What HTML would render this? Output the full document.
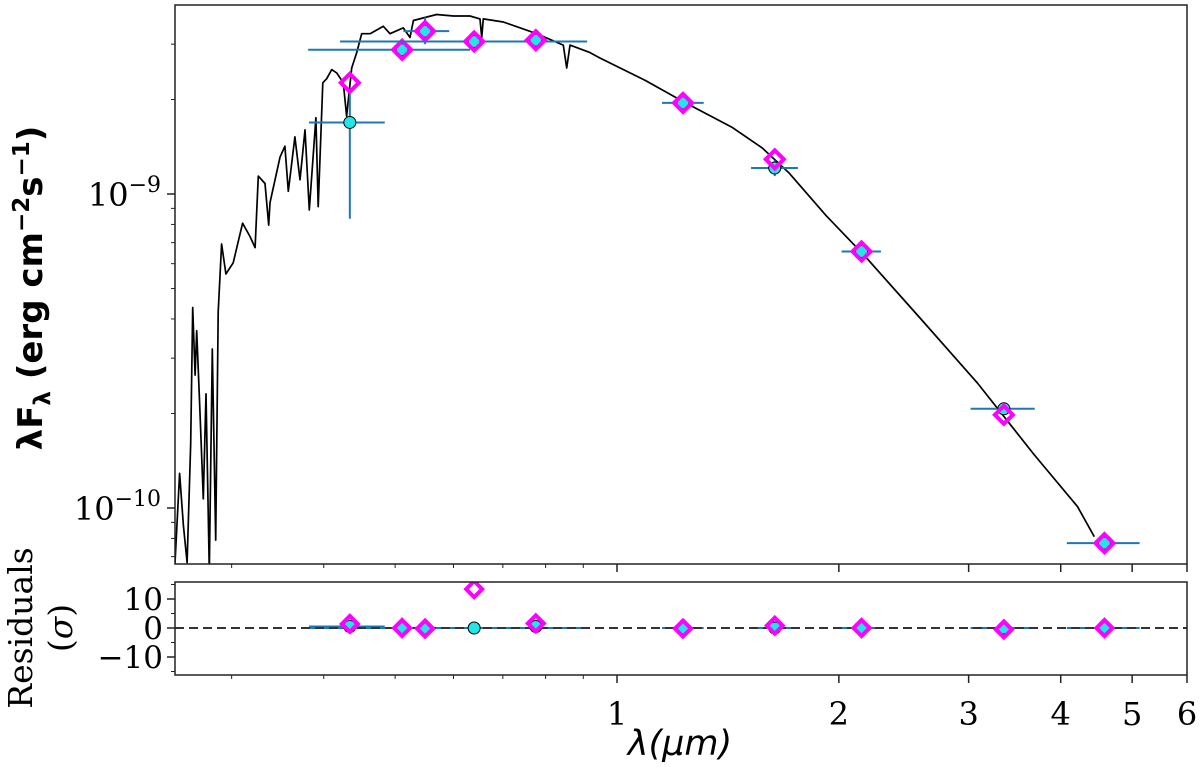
<!DOCTYPE html>
<html><head><meta charset="utf-8"><style>
html,body{margin:0;padding:0;background:#fff;}
svg{display:block;font-family:"DejaVu Serif","Liberation Serif",serif;}
</style></head><body>
<svg id="chart" width="1200" height="767" viewBox="0 0 1200 767" xmlns="http://www.w3.org/2000/svg"></svg>
<script>
// ---- data ----
const specWave = [0.247,0.251,0.255,0.258,0.261,0.264,0.2656,0.2676,0.2690,0.2718,0.2746,0.2769,0.2798,0.2824,0.2854,0.2877,0.2907,0.2947,0.3015,0.3105,0.3177,0.3228,0.3261,0.3330,0.3368,0.3382,0.3489,0.3543,0.3581,0.3656,0.3714,0.3773,0.3824,0.3904,0.3932,0.3988,0.4038,0.4101,0.4166,0.4252,0.4297,0.4365,0.4434,0.4504,0.4624,0.4818,0.4920,0.5129,0.5238,0.5293,0.5692,0.5996,0.6316,0.6517,0.6553,0.6586,0.7010,0.7781,0.8456,0.8545,0.8635,0.9192,0.948,1.092,1.229,1.433,1.575,1.710,1.923,2.165,2.584,3.083,3.68,4.215,4.443];
const specFlux = [7.46e-11,6.3e-11,1.29e-10,8.8e-11,6.7e-11,1.61e-10,4.35e-10,2.65e-10,3.67e-10,2.01e-10,1.07e-10,2.31e-10,6.3e-11,3.21e-10,7.9e-11,4.21e-10,6.93e-10,5.56e-10,6.04e-10,8.07e-10,7.32e-10,6.75e-10,1.14e-9,1.08e-9,7.96e-10,9.38e-10,1.31e-9,1.42e-9,1.02e-9,1.52e-9,1.11e-9,1.60e-9,8.89e-10,1.75e-9,9.12e-10,2.26e-9,2.33e-9,2.49e-9,2.43e-9,2.26e-9,1.77e-9,2.52e-9,2.82e-9,3.24e-9,3.24e-9,3.42e-9,3.24e-9,3.38e-9,3.15e-9,3.57e-9,3.73e-9,3.69e-9,3.69e-9,3.61e-9,3.15e-9,3.61e-9,3.53e-9,3.24e-9,2.98e-9,2.52e-9,2.98e-9,2.82e-9,2.71e-9,2.30e-9,1.97e-9,1.63e-9,1.40e-9,1.17e-9,8.52e-10,6.38e-10,4.0e-10,2.50e-10,1.48e-10,1.01e-10,8.1e-11];
const bandWave = [0.434,0.511,0.549,0.640,0.776,1.229,1.637,2.147,3.349,4.586];
const bandLo   = [0.382,0.381,0.513,0.421,0.776,1.151,1.520,2.017,3.018,4.077];
const bandHi   = [0.484,0.632,0.592,0.911,0.776,1.311,1.760,2.281,3.688,5.118];
const obsFlux  = [1.69e-9,2.88e-9,3.30e-9,3.06e-9,3.09e-9,1.95e-9,1.21e-9,6.56e-10,2.07e-10,7.73e-11];
const obsErrLo = [8.34e-10,2.88e-9,3.00e-9,3.06e-9,3.09e-9,1.95e-9,1.14e-9,6.56e-10,2.07e-10,7.73e-11];
const obsErrHi = [2.08e-9,2.88e-9,3.65e-9,3.06e-9,3.09e-9,1.95e-9,1.28e-9,6.56e-10,2.07e-10,7.73e-11];
const modFlux  = [2.26e-9,2.88e-9,3.30e-9,3.06e-9,3.09e-9,1.95e-9,1.29e-9,6.56e-10,1.98e-10,7.73e-11];
const resObs   = [0.5,0,0,0,0.5,0,0,0,0,0];
const resMod   = [1.4,0,-0.2,13.4,1.6,-0.2,0.8,0,-0.5,0];
const xTickVals = [1,2,3,4,5,6];
const xTickLabels = ["1","2","3","4","5","6"];
const xMinorVals = [0.3,0.4,0.5,0.6,0.7,0.8,0.9];
const resTickVals = [10,0,-10];
const resTickLabels = ["10","0","\u221210"];

// ---- axes ----
const L=175,R=1187,T=5,B=564,RT=582,RB=675;
const X0=617, XD=737;
const sx = v => X0 + XD*Math.log10(v);
const sy = v => 194 - 314*(Math.log10(v)+9);
const ry = v => 628 - 2.9*v;
const NS="http://www.w3.org/2000/svg";
const svg=document.getElementById('chart');
function mk(tag,attrs,parent){const e=document.createElementNS(NS,tag);for(const k in attrs)e.setAttribute(k,attrs[k]);(parent||svg).appendChild(e);return e;}

const defs=mk('defs',{});
const c1=mk('clipPath',{id:'cm'},defs);mk('rect',{x:L,y:T,width:R-L,height:B-T},c1);
const c2=mk('clipPath',{id:'cr'},defs);mk('rect',{x:L,y:RT,width:R-L,height:RB-RT},c2);

const gMain=mk('g',{'clip-path':'url(#cm)'});


let d='';
specWave.forEach((w,i)=>{d+=(i?'L':'M')+sx(w).toFixed(1)+' '+sy(specFlux[i]).toFixed(1);});
const spec=mk('path',{d:d,fill:'none',stroke:'#000','stroke-width':1.7,'stroke-linejoin':'round'},gMain);



bandWave.forEach((w,i)=>{
  const g=mk('g',{},gMain);
  
  
  const y=sy(obsFlux[i]);
  if(bandHi[i]>bandLo[i]) mk('line',{x1:sx(bandLo[i]),x2:sx(bandHi[i]),y1:y,y2:y,stroke:'#1f77b4','stroke-width':2},g);
  mk('line',{x1:sx(w),x2:sx(w),y1:sy(obsErrLo[i]),y2:sy(obsErrHi[i]),stroke:'#1f77b4','stroke-width':2},g);
  mk('circle',{cx:sx(w),cy:y,r:6,fill:'#22e5e5',stroke:'#000','stroke-width':1},g);
  const mx=sx(w),my=sy(modFlux[i]),s=9;
  mk('path',{d:`M${mx} ${my-s}L${mx+s} ${my}L${mx} ${my+s}L${mx-s} ${my}Z`,fill:'none',stroke:'#ff00ff','stroke-width':4},g);
});

const gRes=mk('g',{'clip-path':'url(#cr)'});


bandWave.forEach((w,i)=>{
  if(bandHi[i]>bandLo[i]) mk('line',{x1:sx(bandLo[i]),x2:sx(bandHi[i]),y1:ry(resObs[i]),y2:ry(resObs[i]),stroke:'#1f77b4','stroke-width':2},gRes);
});
const zl=mk('line',{x1:L,x2:R,y1:ry(0),y2:ry(0),stroke:'#333','stroke-width':2,'stroke-dasharray':'9 5'},gRes);


bandWave.forEach((w,i)=>{
  const g=mk('g',{},gRes);
  
  
  mk('circle',{cx:sx(w),cy:ry(resObs[i]),r:6,fill:'#22e5e5',stroke:'#000','stroke-width':1},g);
  const mx=sx(w),my=ry(resMod[i]),s=8;
  mk('path',{d:`M${mx} ${my-s}L${mx+s} ${my}L${mx} ${my+s}L${mx-s} ${my}Z`,fill:'none',stroke:'#ff00ff','stroke-width':4},g);
});

const f1=mk('rect',{x:L,y:T,width:R-L,height:B-T,fill:'none',stroke:'#222','stroke-width':1.5});


const f2=mk('rect',{x:L,y:RT,width:R-L,height:RB-RT,fill:'none',stroke:'#222','stroke-width':1.5});



const gx=mk('g',{});


xTickVals.forEach((v,i)=>{
  const x=Math.min(sx(v),R);
  mk('line',{x1:x,x2:x,y1:RB,y2:RB+8,stroke:'#222','stroke-width':1.5},gx);
  mk('line',{x1:x,x2:x,y1:B,y2:B+8,stroke:'#222','stroke-width':1.5},gx);
  const t=mk('text',{x:x,y:RB+50,'text-anchor':'middle','font-size':32,fill:'#000'},gx);
  t.textContent=xTickLabels[i];
});
xMinorVals.forEach(v=>{
  const x=sx(v);
  mk('line',{x1:x,x2:x,y1:RB,y2:RB+4,stroke:'#222','stroke-width':1},gx);
  mk('line',{x1:x,x2:x,y1:B,y2:B+4,stroke:'#222','stroke-width':1},gx);
});
const xt=mk('text',{x:680,y:755,'text-anchor':'middle','font-size':35,'font-style':'italic',fill:'#000','font-family':'DejaVu Sans, sans-serif'},gx);
xt.textContent='λ(μm)';



const gy=mk('g',{});


[-9,-10].forEach(p=>{
  const y=sy(Math.pow(10,p));
  mk('line',{x1:L-8,x2:L,y1:y,y2:y,stroke:'#222','stroke-width':1.5},gy);
  const t=mk('text',{x:L-14,y:y+12,'text-anchor':'end','font-size':32,fill:'#000'},gy);
  const a=mk('tspan',{},t);a.textContent='10';
  const b=mk('tspan',{dy:-14,'font-size':22},t);b.textContent='\u2212'+(-p);
});
for(let p=-11;p<=-9;p++)for(let m=2;m<=9;m++){
  const v=m*Math.pow(10,p);const y=sy(v);
  if(y>T&&y<B) mk('line',{x1:L-4,x2:L,y1:y,y2:y,stroke:'#222','stroke-width':1},gy);
}
const yt=mk('text',{transform:'translate(42,288) rotate(-90)','text-anchor':'middle','font-size':34,'font-weight':'bold',fill:'#000','font-family':'DejaVu Sans, sans-serif'},gy);


yt.innerHTML='λF<tspan font-size="23" dy="8">λ</tspan><tspan dy="-8"> (erg cm</tspan><tspan font-size="23" dy="-13">−2</tspan><tspan dy="13">s</tspan><tspan font-size="23" dy="-13">−1</tspan><tspan dy="13">)</tspan>';

const gr=mk('g',{});


resTickVals.forEach((v,i)=>{
  const y=ry(v);
  mk('line',{x1:L-8,x2:L,y1:y,y2:y,stroke:'#222','stroke-width':1.5},gr);
  const t=mk('text',{x:L-12,y:y+11,'text-anchor':'end','font-size':31,fill:'#000'},gr);
  t.textContent=resTickLabels[i];
});
[-15,-5,5,15].forEach(v=>{const y=ry(v);if(y>RT&&y<RB)mk('line',{x1:L-4,x2:L,y1:y,y2:y,stroke:'#222','stroke-width':1},gr);});
const rt=mk('text',{transform:'translate(32,628) rotate(-90)','text-anchor':'middle','font-size':33,fill:'#000'},gr);
rt.textContent='Residuals';


const rt2=mk('text',{transform:'translate(72,628) rotate(-90)','text-anchor':'middle','font-size':33,fill:'#000'},gr);
rt2.innerHTML='(<tspan font-style="italic">σ</tspan>)';
</script>
</body></html>
